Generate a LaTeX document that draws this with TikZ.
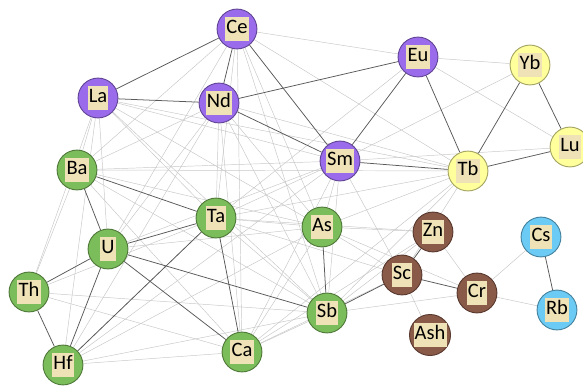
\documentclass[tikz,border=0pt]{standalone}
\usepackage{fontspec}
\setmainfont{Carlito}
\usetikzlibrary{backgrounds}
\definecolor{purp}{HTML}{9A6CEC}
\definecolor{grn}{HTML}{7CBD5B}
\definecolor{ylw}{HTML}{FFFF9C}
\definecolor{brn}{HTML}{8A5A48}
\definecolor{blu}{HTML}{6CCBF4}
\definecolor{beige}{HTML}{EEE2B6}
\newcommand{\lbl}[1]{{\setlength{\fboxsep}{1pt}\colorbox{beige}{\strut #1}}}
\tikzset{
  elem/.style={circle,draw=#1!65!black,fill=#1,line width=0.8pt,
    minimum size=34pt,inner sep=0pt,font=\fontsize{17.5}{19}\selectfont},
  strong/.style={draw=black!65,line width=0.65pt},
  weak/.style={draw=black!22,line width=0.4pt}
}
\begin{document}
\begin{tikzpicture}[x=0.03cm,y=-0.03cm]
\useasboundingbox (0,0) rectangle (583,385);
% rare earths
\node[elem=purp] (Ce) at (237,29) {\lbl{Ce}};
\node[elem=purp] (La) at (98,98) {\lbl{La}};
\node[elem=purp] (Nd) at (219,103) {\lbl{Nd}};
\node[elem=purp] (Eu) at (418,57) {\lbl{Eu}};
\node[elem=purp] (Sm) at (340,161) {\lbl{Sm}};
\node[elem=ylw] (Yb) at (530,65) {\lbl{Yb}};
\node[elem=ylw] (Lu) at (570,147) {\lbl{Lu}};
\node[elem=ylw] (Tb) at (468,171) {\lbl{Tb}};
% green group
\node[elem=grn] (Ba) at (77,170) {\lbl{Ba}};
\node[elem=grn] (Ta) at (216,218) {\lbl{Ta}};
\node[elem=grn] (U) at (108,249) {\lbl{U}};
\node[elem=grn] (Th) at (29,292) {\lbl{Th}};
\node[elem=grn] (Hf) at (63,365) {\lbl{Hf}};
\node[elem=grn] (Ca) at (242,352) {\lbl{Ca}};
\node[elem=grn] (As) at (322,227) {\lbl{As}};
\node[elem=grn] (Sb) at (327,313) {\lbl{Sb}};
% brown group
\node[elem=brn] (Zn) at (433,232) {\lbl{Zn}};
\node[elem=brn] (Sc) at (402,275) {\lbl{Sc}};
\node[elem=brn] (Cr) at (477,293) {\lbl{Cr}};
\node[elem=brn] (Ash) at (430,335) {\lbl{Ash}};
% alkali
\node[elem=blu] (Cs) at (541,237) {\lbl{Cs}};
\node[elem=blu] (Rb) at (557,310) {\lbl{Rb}};

\begin{scope}[on background layer]
\foreach \a/\b in {Ce/Ba,Ce/Ta,Ce/As,Ce/Eu,Ce/Tb,Ce/Sb,Ce/U,La/Ba,La/U,
  La/Sm,La/Tb,La/Ta,La/As,La/Sb,La/Th,La/Hf,Nd/Ba,Nd/Ta,Nd/U,Nd/Ca,Nd/Sb,
  Nd/As,Nd/Tb,Nd/Hf,Ba/As,Ba/Sm,Ba/Th,Ba/Sb,Ba/Ca,Ba/Tb,Ta/As,Ta/Sm,
  Ta/Sc,Ta/Tb,Ta/Zn,Ta/Sb,U/As,U/Sm,Th/Sb,Th/Ta,Th/Ca,Hf/Ca,Hf/Sb,Hf/As,
  Hf/Sm,Ca/As,Ca/Sm,Ca/Sc,Ca/Tb,Sb/Sm,Sb/Tb,Sb/Zn,As/Sm,As/Zn,As/Sc,
  As/Tb,As/Cr,Sm/Yb,Eu/Lu,Eu/Yb,Tb/Sc,Sm/Sc,Eu/Ta,Sm/Lu,Sc/Ash,Cs/Cr,
  Cr/Rb,Zn/Cr,Sb/Cr,Ca/Sb,Ca/Zn,Hf/Ta,Ce/Ca}
  \draw[weak] (\a) -- (\b);
\foreach \a/\b in {La/Ce,La/Nd,Ce/Nd,Ce/Sm,Nd/Eu,Nd/Sm,Eu/Sm,Eu/Tb,Yb/Tb,
  Yb/Lu,Tb/Lu,Sm/Tb,Ba/Ta,Ba/U,U/Ta,U/Th,U/Hf,Th/Hf,Hf/Ta,U/Ca,U/Sb,
  Ta/Ca,As/Sb,Sc/Cr,Zn/Sc,Cs/Rb,Sb/Sc}
  \draw[strong] (\a) -- (\b);
\end{scope}
\end{tikzpicture}
\end{document}
